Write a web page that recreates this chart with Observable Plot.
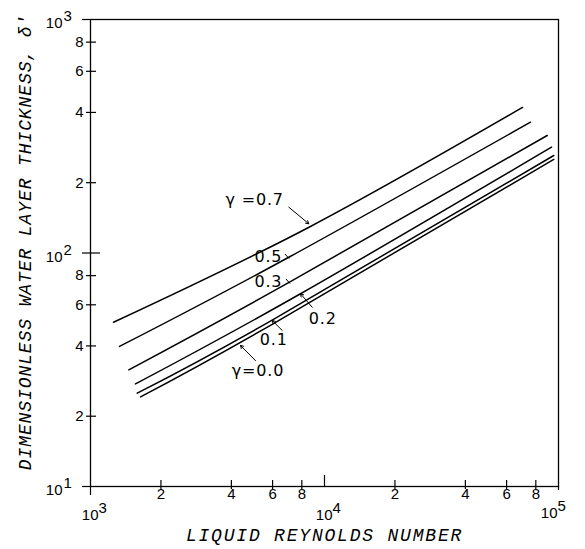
<!DOCTYPE html>
<html><head><meta charset="utf-8">
<script src="https://cdn.jsdelivr.net/npm/d3@7"></script>
<script src="https://cdn.jsdelivr.net/npm/@observablehq/plot@0.6"></script>
<style>body{margin:0;background:#fff}#chart svg{display:block}</style>
</head><body><div id="chart"></div>
<script>
// Curves: liquid Reynolds number vs dimensionless water layer thickness
const gammas = ["0.7", "0.5", "0.3", "0.2", "0.1", "0.0"];
const re_07 = [1254, 8711, 70200];   const d_07 = [50.5, 129.9, 420];
const re_05 = [1330, 7038, 75920];   const d_05 = [39.8, 95.9, 363.3];
const re_03 = [1458, 7086, 89460];   const d_03 = [31.6, 75.0, 318.6];
const re_02 = [1557, 7897, 93350];   const d_02 = [27.5, 66.9, 283.9];
const re_01 = [1584, 5977, 95480];   const d_01 = [25.1, 51.6, 261.5];
const re_00 = [1636, 5977, 95480];   const d_00 = [24.2, 49.5, 251.5];

// Tick values
const xMinor = [2000, 4000, 6000, 8000, 20000, 40000, 60000, 80000];
const xMajor = [1000, 10000, 100000];
const yMinor = [20, 40, 60, 80, 200, 400, 600, 800];
const yMajor = [10, 100, 1000];

// Curve labels (text, anchor in data units) and leader lines (text side -> curve)
const labelText = ["γ =0.7", "0.5", "0.3", "0.2", "0.1", "γ=0.0"];
const labelRe   = [5031, 5758, 5758, 9824, 6071, 5197];
const labelD    = [169.0, 95.9, 75.0, 52.3, 42.5, 31.4];
const leadRe1 = [7038, 8860, 6596, 5071];  const leadD1 = [157.1, 58.6, 46.6, 34.6];
const leadRe2 = [8567, 7897, 5977, 4375];  const leadD2 = [133.4, 66.9, 51.4, 40.2];
const tickRe1 = [6780, 6847];  const tickD1 = [99.0, 77.4];
const tickRe2 = [7053, 7123];  const tickD2 = [94.7, 74.0];

const series = [[re_07, d_07], [re_05, d_05], [re_03, d_03], [re_02, d_02], [re_01, d_01], [re_00, d_00]];
const rows = series.flatMap(([xs, ys], i) => xs.map((x, j) => ({g: gammas[i], re: x, d: ys[j]})));
const labels = labelText.map((t, i) => ({t, re: labelRe[i], d: labelD[i]}));
const leaders = leadRe1.map((x, i) => ({x1: x, y1: leadD1[i], x2: leadRe2[i], y2: leadD2[i]}));
const ticks = tickRe1.map((x, i) => ({x1: x, y1: tickD1[i], x2: tickRe2[i], y2: tickD2[i]}));

const mant = d => String(Math.round(d / 10 ** Math.floor(Math.log10(d))));
const expo = d => String(Math.round(Math.log10(d)));
const lab = {fontSize: 15, fill: "black"};
const titleFont = {fontFamily: "Liberation Mono, Courier New, monospace", fontStyle: "italic", fontSize: 18, fill: "black"};

const chart = Plot.plot({
  width: 585, height: 549,
  marginLeft: 90, marginRight: 27, marginTop: 19, marginBottom: 63,
  x: {type: "log", domain: [1e3, 1e5]},
  y: {type: "log", domain: [10, 1000]},
  style: {fontFamily: "Liberation Sans, Arial, sans-serif", fontSize: "15px", color: "black", background: "white"},
  marks: [
    Plot.frame({stroke: "black", strokeWidth: 1.3}),
    // y ticks
    Plot.axisY(yMinor, {anchor: "left", tickSize: 10, dx: 6, fill: "none", label: null, strokeWidth: 1.2}),
    Plot.axisY([100], {anchor: "left", tickSize: 18, dx: 10, fill: "none", label: null, strokeWidth: 1.2}),
    Plot.axisY([10, 1000], {anchor: "left", tickSize: 8, dx: 0, fill: "none", label: null, strokeWidth: 1.2}),
    Plot.text(yMinor, {y: d => d, frameAnchor: "left", dx: -7, textAnchor: "end", text: mant, ...lab}),
    Plot.text(yMajor, {y: d => d, frameAnchor: "left", dx: -28, dy: 4, textAnchor: "end", text: () => "10", ...lab}),
    Plot.text(yMajor, {y: d => d, frameAnchor: "left", dx: -27, dy: -3, textAnchor: "start", text: expo, ...lab}),
    // x ticks
    Plot.axisX(xMinor, {anchor: "bottom", tickSize: 9, dy: -6, fill: "none", label: null, strokeWidth: 1.2}),
    Plot.axisX([1000], {anchor: "bottom", tickSize: 9, dy: 0, fill: "none", label: null, strokeWidth: 1.2}),
    Plot.axisX([10000], {anchor: "bottom", tickSize: 12, dy: -11, fill: "none", label: null, strokeWidth: 1.2}),
    Plot.axisX([100000], {anchor: "bottom", tickSize: 4, dy: 0, fill: "none", label: null, strokeWidth: 1.2}),
    Plot.text(xMinor, {x: d => d, frameAnchor: "bottom", dy: 12, text: mant, ...lab}),
    Plot.text(xMajor.slice(0, 2), {x: d => d, frameAnchor: "bottom", dy: 33, dx: 8, textAnchor: "end", text: () => "10", ...lab}),
    Plot.text(xMajor.slice(0, 2), {x: d => d, frameAnchor: "bottom", dy: 26, dx: 8, textAnchor: "start", text: expo, ...lab}),
    Plot.text(xMajor.slice(2), {x: d => d, frameAnchor: "bottom", dy: 31, dx: -1, textAnchor: "end", text: () => "10", ...lab}),
    Plot.text(xMajor.slice(2), {x: d => d, frameAnchor: "bottom", dy: 24, dx: -1, textAnchor: "start", text: expo, ...lab}),
    // axis titles
    Plot.text(["LIQUID REYNOLDS NUMBER"], {frameAnchor: "bottom", dy: 54, textAnchor: "middle", text: d => d, ...titleFont}),
    Plot.text(["DIMENSIONLESS WATER LAYER THICKNESS, δ'"], {frameAnchor: "left", dx: -65, dy: -11, rotate: -90, textAnchor: "middle", text: d => d, ...titleFont}),
    // curves
    Plot.line(rows, {x: "re", y: "d", z: "g", curve: "natural", stroke: "black", strokeWidth: 1.5}),
    // annotations
    Plot.arrow(leaders, {x1: "x1", y1: "y1", x2: "x2", y2: "y2", stroke: "black", strokeWidth: 1, headLength: 5}),
    Plot.link(ticks, {x1: "x1", y1: "y1", x2: "x2", y2: "y2", stroke: "black", strokeWidth: 1}),
    Plot.text(labels, {x: "re", y: "d", text: "t", fontSize: 16, fill: "black", fontFamily: "DejaVu Sans, sans-serif"})
  ]
});

d3.select(chart).selectAll("text").each(function () {
  const t = this.textContent;
  if (t === "LIQUID REYNOLDS NUMBER") this.setAttribute("letter-spacing", "1.8");
  else if (t.startsWith("DIMENSIONLESS")) this.setAttribute("letter-spacing", "0.9");
  else if (labelText.includes(t)) this.setAttribute("letter-spacing", "0.8");
});
document.getElementById("chart").appendChild(chart);
</script>
</body></html>
